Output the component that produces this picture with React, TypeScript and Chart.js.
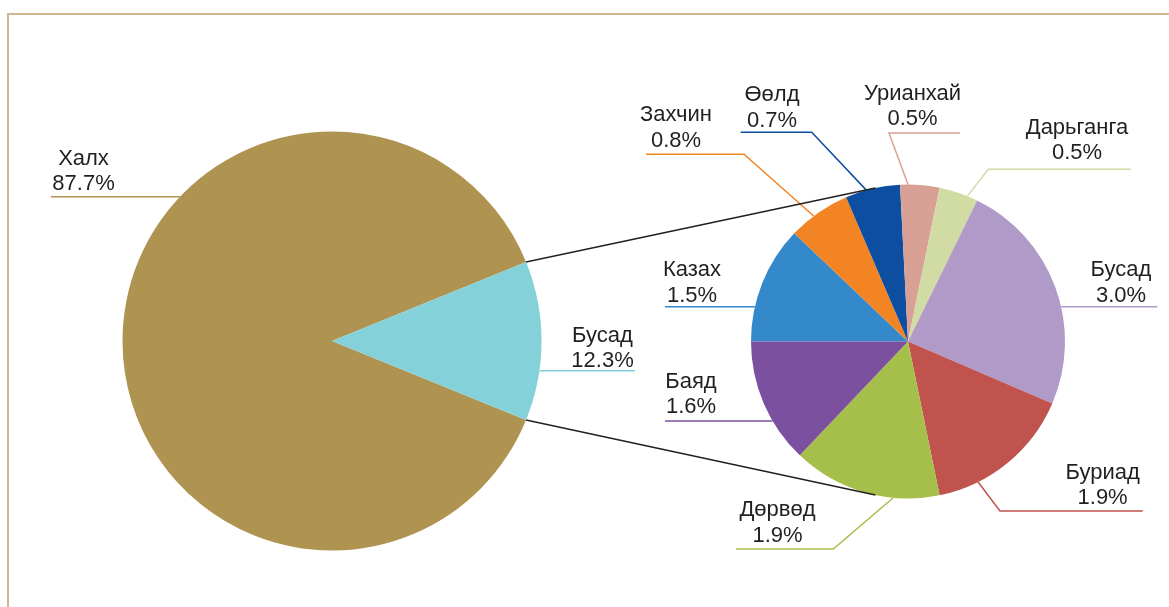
import React, { useEffect, useRef } from 'react';
import { Chart, registerables } from 'chart.js';

Chart.register(...registerables);

// ---- data ----
const mainLabels = ['Халх', 'Бусад'];
const mainValues = [87.7, 12.3];
const mainColors = ['#AF9350', '#84D1D9'];

const subLabels = ['Казах', 'Захчин', 'Өөлд', 'Урианхай', 'Дарьганга', 'Бусад', 'Буриад', 'Дөрвөд', 'Баяд'];
const subValues = [1.5, 0.8, 0.7, 0.5, 0.5, 3.0, 1.9, 1.9, 1.6];
const subColors = ['#3389C9', '#F28424', '#0D4EA1', '#D9A096', '#D1DBA4', '#B09AC8', '#C0534D', '#A6BE4A', '#7B519F'];

// ---- layout (kept apart from data) ----
type LabelLayout = { text: [number, number]; line: [number, number][]; anchorDeg?: number };
// offsets in px relative to the pie's centre; anchorDeg is clockwise from 12 o'clock.
// Without anchorDeg the leader is horizontal and meets the rim at the height of its point.
const mainLayout: LabelLayout[] = [
  { text: [-248.5, -151], line: [[-281, -144.3]] },
  { text: [270.5, 26], line: [[303, 29.7]] },
];
const subLayout: LabelLayout[] = [
  { text: [-216, -39.8], line: [[-243, -34.8]] },
  { text: [-232, -194.8], line: [[-262, -187.2], [-164, -187.2]], anchorDeg: 323.1 },
  { text: [-136, -214.8], line: [[-167.3, -209.2], [-96.3, -209.2]], anchorDeg: 344.6 },
  { text: [4.5, -216.5], line: [[52, -208.5], [-19, -208.5]], anchorDeg: 0 },
  { text: [169, -182.2], line: [[222.7, -172.2], [80.3, -172.2]], anchorDeg: 22.2 },
  { text: [213, -39.8], line: [[249.3, -34.8]] },
  { text: [194.6, 162.5], line: [[234.7, 169.5], [92, 169.5]], anchorDeg: 153.5 },
  { text: [-130.5, 200.2], line: [[-172, 207.5], [-74.7, 207.5]], anchorDeg: 185.4 },
  { text: [-217, 71.5], line: [[-243, 79.5]] },
];
const connectorDeg = [348, 192];
const FONT = '22px "Liberation Sans", Arial, sans-serif';
const TEXT_COLOR = '#231F20';
const W = 1169;
const H = 607;

function drawLabels(chart: any, layouts: LabelLayout[], colors: string[]) {
  const ctx = chart.ctx as CanvasRenderingContext2D;
  const meta = chart.getDatasetMeta(0);
  const labels = chart.data.labels as string[];
  const values = chart.data.datasets[0].data as number[];
  meta.data.forEach((arc: any, i: number) => {
    const { x: cx, y: cy, outerRadius: r } = arc.getProps(['x', 'y', 'outerRadius'], true);
    const lay = layouts[i];
    const pts = lay.line.map(([dx, dy]) => [cx + dx, cy + dy]);
    let anchor: number[];
    if (lay.anchorDeg !== undefined) {
      const a = ((lay.anchorDeg - 90) * Math.PI) / 180;
      anchor = [cx + r * Math.cos(a), cy + r * Math.sin(a)];
    } else {
      const last = lay.line[lay.line.length - 1];
      const dy = last[1];
      const dx = Math.sqrt(Math.max(r * r - dy * dy, 0)) * Math.sign(last[0]);
      anchor = [cx + dx, cy + dy];
    }
    ctx.save();
    ctx.strokeStyle = colors[i];
    ctx.lineWidth = 1.5;
    ctx.beginPath();
    ctx.moveTo(pts[0][0], pts[0][1]);
    for (let k = 1; k < pts.length; k++) ctx.lineTo(pts[k][0], pts[k][1]);
    ctx.lineTo(anchor[0], anchor[1]);
    ctx.stroke();
    ctx.font = FONT;
    ctx.fillStyle = TEXT_COLOR;
    ctx.textAlign = 'center';
    ctx.textBaseline = 'alphabetic';
    const tx = cx + lay.text[0];
    const ty = cy + lay.text[1];
    ctx.fillText(labels[i], tx, ty - 25.5);
    ctx.fillText(values[i].toFixed(1) + '%', tx, ty);
    ctx.restore();
  });
}

export default function App() {
  const leftRef = useRef<HTMLCanvasElement>(null);
  const rightRef = useRef<HTMLCanvasElement>(null);

  useEffect(() => {
    if (!leftRef.current || !rightRef.current) return;
    const mainTotal = mainValues.reduce((a, b) => a + b, 0);
    const otherIdx = mainLabels.length - 1;
    const before = mainValues.slice(0, otherIdx).reduce((a, b) => a + b, 0);
    const mainRotation = 90 - ((before + mainValues[otherIdx] / 2) / mainTotal) * 360;

    const common = {
      responsive: false,
      animation: false as const,
      events: [] as any[],
      plugins: { legend: { display: false }, tooltip: { enabled: false } },
    };

    const left = new Chart(leftRef.current, {
      type: 'pie',
      data: {
        labels: mainLabels,
        datasets: [{ data: mainValues, backgroundColor: mainColors, borderWidth: 0, hoverOffset: 0, offset: 0 } as any],
      },
      options: {
        ...common,
        rotation: mainRotation,
        layout: { padding: { left: 122.5, right: 627.5, top: 131.5, bottom: 56.5 } },
      } as any,
      plugins: [
        {
          id: 'mainLabels',
          afterDatasetsDraw(chart: any) {
            drawLabels(chart, mainLayout, mainColors);
          },
        },
      ],
    });

    const right = new Chart(rightRef.current, {
      type: 'pie',
      data: {
        labels: subLabels,
        datasets: [{ data: subValues, backgroundColor: subColors, borderWidth: 0, hoverOffset: 0, offset: 0 } as any],
      },
      options: {
        ...common,
        rotation: 270,
        layout: { padding: { left: 751, right: 104, top: 184.5, bottom: 108.5 } },
      } as any,
      plugins: [
        {
          id: 'subLabels',
          afterDatasetsDraw(chart: any) {
            drawLabels(chart, subLayout, subColors);
            // connectors between the two pies
            const lArc: any = left.getDatasetMeta(0).data[otherIdx];
            const rArc: any = chart.getDatasetMeta(0).data[0];
            if (!lArc || !rArc) return;
            const lp = lArc.getProps(['x', 'y', 'startAngle', 'endAngle', 'outerRadius'], true);
            const rp = rArc.getProps(['x', 'y', 'outerRadius'], true);
            const ctx = chart.ctx as CanvasRenderingContext2D;
            ctx.save();
            ctx.strokeStyle = TEXT_COLOR;
            ctx.lineWidth = 1.5;
            [lp.startAngle, lp.endAngle].forEach((ang: number, k: number) => {
              const a = ((connectorDeg[k] - 90) * Math.PI) / 180;
              ctx.beginPath();
              ctx.moveTo(lp.x + lp.outerRadius * Math.cos(ang), lp.y + lp.outerRadius * Math.sin(ang));
              ctx.lineTo(rp.x + rp.outerRadius * Math.cos(a), rp.y + rp.outerRadius * Math.sin(a));
              ctx.stroke();
            });
            ctx.restore();
          },
        },
      ],
    });

    return () => {
      right.destroy();
      left.destroy();
    };
  }, []);

  const canvasStyle: React.CSSProperties = { position: 'absolute', left: 0, top: 0, width: W, height: H };
  return (
    <div style={{ position: 'fixed', left: 0, top: 0, width: W, height: H, overflow: 'hidden', background: '#fff' }}>
      <div
        style={{
          position: 'absolute',
          left: 7,
          top: 13,
          width: W + 20,
          height: H + 20,
          borderTop: '2px solid #CDB98F',
          borderLeft: '2px solid #CDB98F',
        }}
      />
      <canvas ref={leftRef} width={W} height={H} style={canvasStyle} />
      <canvas ref={rightRef} width={W} height={H} style={canvasStyle} />
    </div>
  );
}
